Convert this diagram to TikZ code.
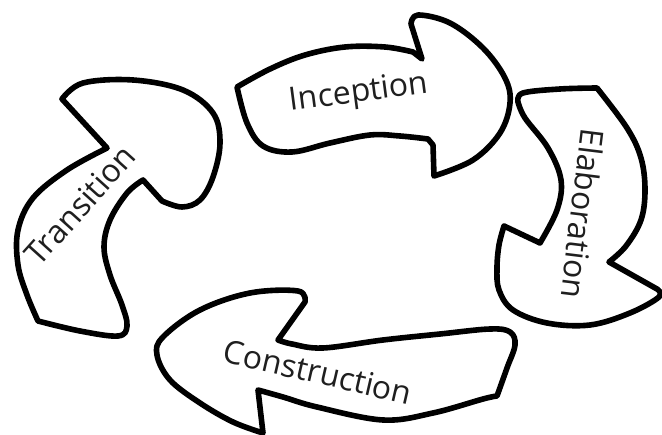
\documentclass[tikz,border=0pt]{standalone}
\usepackage{fontspec}
\setmainfont{Open Sans}
\begin{document}
\begin{tikzpicture}[x=1pt,y=-1pt,
  arrowshape/.style={draw=black,fill=white,line width=5.6pt,line join=round,line cap=round},
  lbl/.style={font=\fontsize{32}{36}\selectfont,text=black!88,inner sep=0pt}]
\useasboundingbox[fill=white] (0,0) rectangle (662,435);
% Inception
\draw[arrowshape] plot[smooth,tension=0.6] coordinates{(237,87) (270,69) (305,55) (345,47) (385,47) (413,52)}
  -- (422,59) -- (411,24)
  -- plot[smooth,tension=0.6] coordinates{(411,24) (418,15) (450,23) (483,48) (505,78) (510,103) (500,133) (473,160) (434,176)}
  -- (433,145) -- (428,139)
  -- plot[smooth,tension=0.6] coordinates{(428,139) (400,136) (370,135) (330,143) (292,152) (263,146) (247,123) (237,87)} -- cycle;
% Elaboration
\draw[arrowshape] plot[smooth,tension=0.6] coordinates{(518,102) (523,93) (560,89) (597,88)}
  -- plot[smooth,tension=0.6] coordinates{(597,88) (627,128) (641,158) (645,190) (641,220) (626,246) (609,262)}
  -- (657,289)
  -- plot[smooth,tension=0.6] coordinates{(657,289) (659,297) (630,313) (590,325) (547,323) (513,310) (499,290) (497,268) (499,245) (504,226)}
  -- (540,243)
  -- plot[smooth,tension=0.6] coordinates{(540,243) (557,210) (561,180) (548,148) (525,118) (518,102)} -- cycle;
% Construction
\draw[arrowshape] plot[smooth,tension=0.6] coordinates{(497,396) (507,368) (515,345) (510,332) (490,329) (440,334) (383,340) (323,348) (292,344) (278,340)}
  -- (305,302)
  -- plot[smooth,tension=0.6] coordinates{(305,302) (298,291) (250,293) (200,310) (163,337) (157,355) (170,380) (200,403) (233,422) (263,433)}
  -- (258,390)
  -- plot[smooth,tension=0.6] coordinates{(258,390) (283,397) (317,407) (383,420) (433,413) (483,399) (497,396)} -- cycle;
% Transition
\draw[arrowshape] plot[smooth,tension=0.6] coordinates{(107,148) (67,170) (33,198) (18,230) (18,265) (27,295) (38,321)}
  -- plot[smooth,tension=0.6] coordinates{(38,321) (80,331) (118,336) (127,326) (122,305) (110,275) (104,247) (110,220) (127,193) (143,180)}
  -- (162,201)
  -- plot[smooth,tension=0.6] coordinates{(162,201) (182,207) (200,200) (213,177) (220,143) (213,113) (183,90) (133,80) (83,83) (62,99)}
  -- (107,148) -- cycle;
% labels
\node[lbl,rotate=7.5] (inc) at (359,94) {Inception};
\node[lbl,rotate=-97] (ela) at (583,214) {Elaboration};
\node[lbl,rotate=-13] (con) at (318,372) {Construction};
\node[lbl,rotate=48] (tra) at (80,205) {Transition};
\end{tikzpicture}
\end{document}
